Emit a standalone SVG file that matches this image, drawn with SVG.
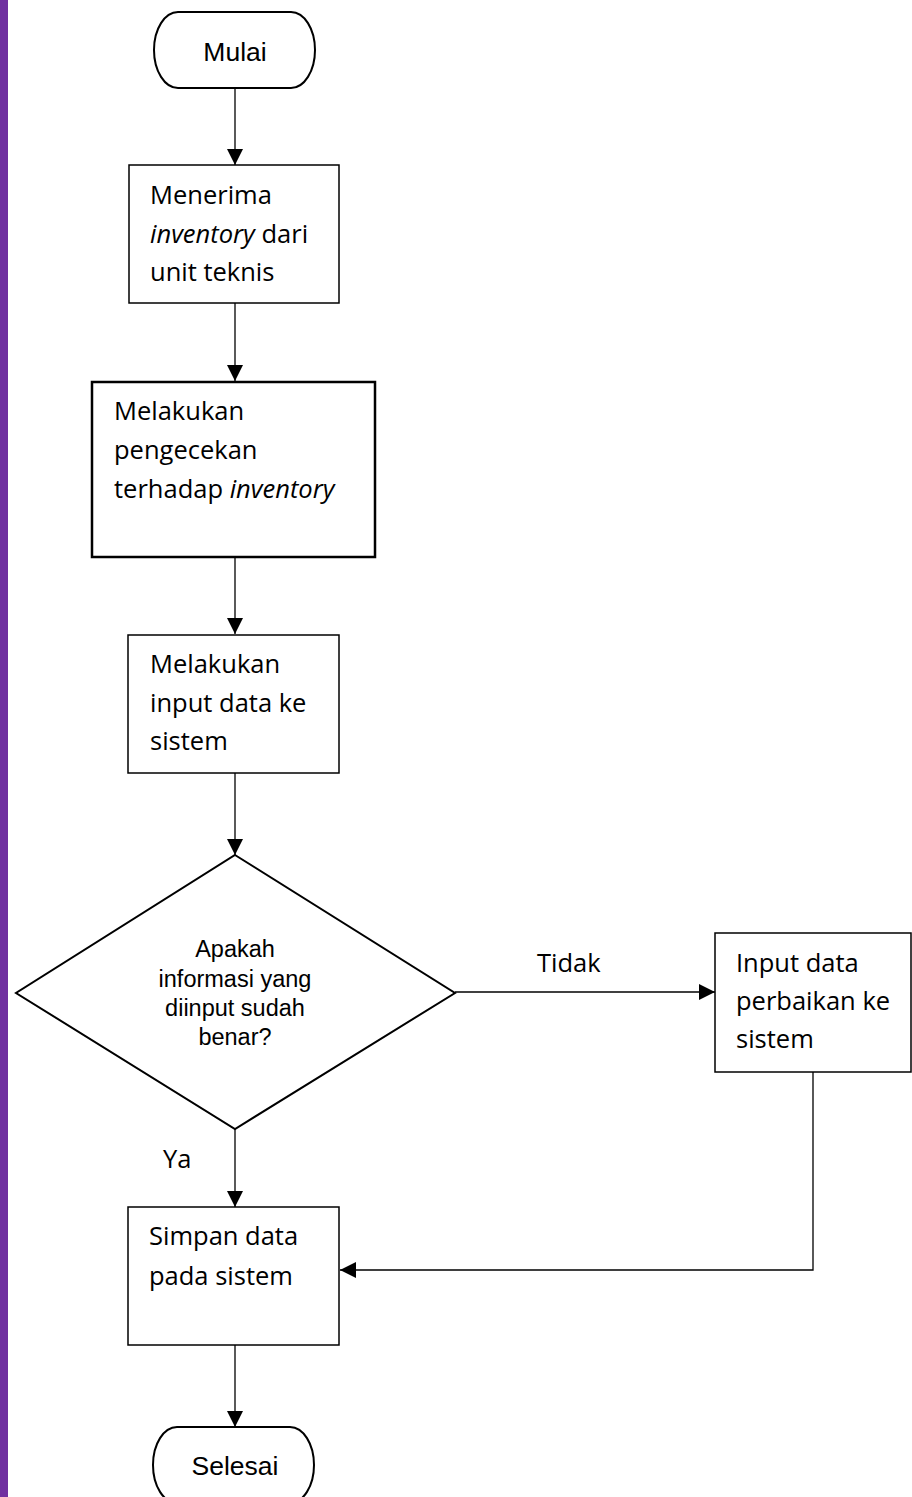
<svg xmlns="http://www.w3.org/2000/svg" width="912" height="1497" viewBox="0 0 912 1497">
<defs>
<marker id="arr" markerWidth="16" markerHeight="16" viewBox="0 0 16 16" refX="16" refY="8" orient="auto" markerUnits="userSpaceOnUse">
<path d="M0,0 L16,8 L0,16 Z" fill="#000"/>
</marker>
<style>
.box{fill:#fff;stroke:#000;stroke-width:1.5}
.boxb{fill:#fff;stroke:#000;stroke-width:2.5}
.term{fill:#fff;stroke:#000;stroke-width:2}
.t{font-family:"Open Sans",Lato,sans-serif;font-size:25.5px;fill:#000}
.a{font-family:"Liberation Sans",Arial,sans-serif;fill:#000;text-anchor:middle}
.c{fill:none;stroke:#000;stroke-width:1.3}
</style>
</defs>
<rect x="0" y="0" width="912" height="1497" fill="#fff"/>
<rect x="0" y="0" width="8" height="1497" fill="#7030A0"/>
<g id="connectors">
<line class="c" x1="235" y1="88" x2="235" y2="165" marker-end="url(#arr)"/>
<line class="c" x1="235" y1="303" x2="235" y2="381" marker-end="url(#arr)"/>
<line class="c" x1="235" y1="557" x2="235" y2="634" marker-end="url(#arr)"/>
<line class="c" x1="235" y1="773" x2="235" y2="855" marker-end="url(#arr)"/>
<line class="c" x1="455" y1="992" x2="715" y2="992" marker-end="url(#arr)"/>
<line class="c" x1="235" y1="1129" x2="235" y2="1207" marker-end="url(#arr)"/>
<polyline class="c" points="813,1072 813,1270 340,1270" marker-end="url(#arr)"/>
<line class="c" x1="235" y1="1345" x2="235" y2="1427" marker-end="url(#arr)"/>
<text class="t" x="537" y="972">Tidak</text>
<text class="t" x="163" y="1168">Ya</text>
</g>
<g id="mulai">
<rect class="term" x="154" y="12" width="161" height="76" rx="24" ry="38"/>
<text class="a" x="235" y="61" font-size="26.5">Mulai</text>
</g>
<g id="menerima">
<rect class="box" x="129" y="165" width="210" height="138"/>
<text class="t" x="150" y="204">Menerima</text>
<text class="t" x="150" y="243"><tspan font-style="italic">inventory</tspan> dari</text>
<text class="t" x="150" y="281">unit teknis</text>
</g>
<g id="pengecekan">
<rect class="boxb" x="92" y="382" width="283" height="175"/>
<text class="t" x="114" y="420">Melakukan</text>
<text class="t" x="114" y="459">pengecekan</text>
<text class="t" x="114" y="498">terhadap <tspan font-style="italic">inventory</tspan></text>
</g>
<g id="input">
<rect class="box" x="128" y="635" width="211" height="138"/>
<text class="t" x="150" y="673">Melakukan</text>
<text class="t" x="150" y="712">input data ke</text>
<text class="t" x="150" y="750">sistem</text>
</g>
<g id="decision">
<polygon class="term" points="235,855 455,993 235,1129 16,993"/>
<text class="a" x="235" y="957" font-size="23.5">Apakah</text>
<text class="a" x="235" y="987" font-size="23.5">informasi yang</text>
<text class="a" x="235" y="1016" font-size="23.5">diinput sudah</text>
<text class="a" x="235" y="1045" font-size="23.5">benar?</text>
</g>
<g id="perbaikan">
<rect class="box" x="715" y="933" width="196" height="139"/>
<text class="t" x="736" y="972">Input data</text>
<text class="t" x="736" y="1010">perbaikan ke</text>
<text class="t" x="736" y="1048">sistem</text>
</g>
<g id="simpan">
<rect class="box" x="128" y="1207" width="211" height="138"/>
<text class="t" x="149" y="1245">Simpan data</text>
<text class="t" x="149" y="1285">pada sistem</text>
</g>
<g id="selesai">
<rect class="term" x="153" y="1427" width="161" height="76" rx="24" ry="38"/>
<text class="a" x="235" y="1475" font-size="26.5">Selesai</text>
</g>
</svg>
